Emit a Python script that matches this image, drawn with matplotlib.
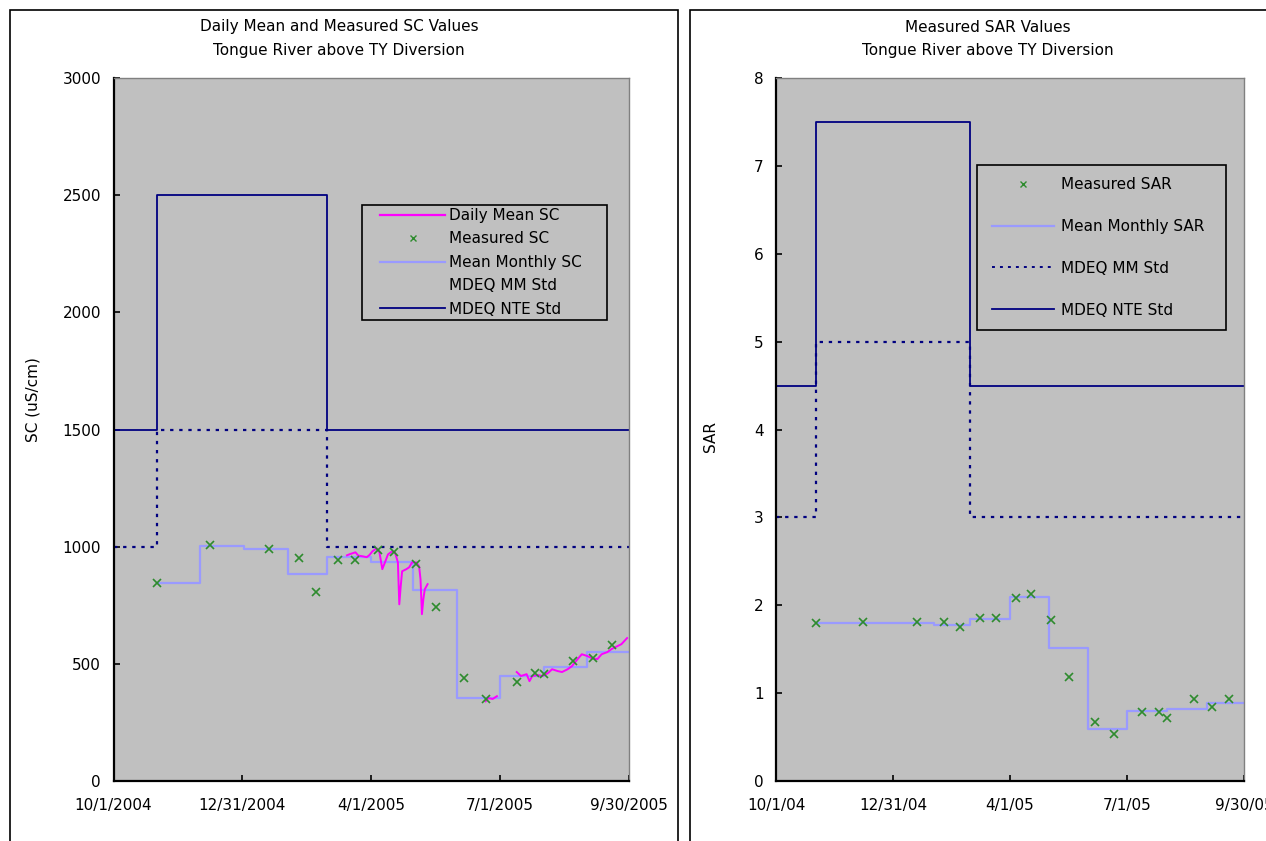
import matplotlib
matplotlib.use("Agg")
import numpy as np
import pandas as pd
import matplotlib.pyplot as plt
from matplotlib.lines import Line2D
from matplotlib.patches import Rectangle
from matplotlib.legend_handler import HandlerLine2D

plt.rcParams["font.family"] = ["DejaVu Sans"]

# sampling dates shared by the SC and SAR grab samples
sample_dates = ["2004-11-01", "2004-12-08", "2005-01-19", "2005-02-09", "2005-02-21",
                "2005-03-09", "2005-03-21", "2005-04-06", "2005-04-17", "2005-05-03",
                "2005-05-17", "2005-06-06", "2005-06-21", "2005-07-13", "2005-07-26",
                "2005-08-01", "2005-08-22", "2005-09-05", "2005-09-18"]
sc_measured = [847, 1005, 990, 950, 805, 942, 942, 985, 977, 927,
               744, 440, 352, 424, 460, 455, 513, 527, 581]
sar_measured = [1.80, 1.81, 1.81, 1.81, 1.75, 1.85, 1.85, 2.08, 2.13, 1.83,
                1.18, 0.67, 0.53, 0.79, 0.79, 0.72, 0.93, 0.84, 0.93]

# monthly means (step starts), last value held to end of water year
month_dates = ["2004-11-01", "2004-12-01", "2005-01-01", "2005-02-01", "2005-03-01",
               "2005-04-01", "2005-05-01", "2005-06-01", "2005-07-01", "2005-08-01",
               "2005-09-01", "2005-09-30"]
sc_monthly = [845, 1002, 988, 882, 958, 935, 815, 354, 449, 487, 550, 550]
sar_monthly = [1.80, 1.80, 1.80, 1.78, 1.84, 2.09, 1.51, 0.59, 0.80, 0.82, 0.89, 0.89]

# MDEQ standards
std_dates = ["2004-10-01", "2004-11-01", "2005-03-01", "2005-09-30"]
sc_mm_std = [1000, 1500, 1000, 1000]
sc_nte_std = [1500, 2500, 1500, 1500]
sar_mm_std = [3.0, 5.0, 3.0, 3.0]
sar_nte_std = [4.5, 7.5, 4.5, 4.5]

# daily mean SC from the continuous recorder (None = no record)
daily_dates = ["2005-03-15", "2005-03-17", "2005-03-19", "2005-03-21", "2005-03-23",
               "2005-03-26", "2005-03-29", "2005-03-31", "2005-04-02", "2005-04-05",
               "2005-04-07", "2005-04-09", "2005-04-11", "2005-04-13", "2005-04-16",
               "2005-04-18", "2005-04-20", "2005-04-21", "2005-04-22", "2005-04-23",
               "2005-04-26", "2005-04-28", "2005-04-30", "2005-05-03", "2005-05-05",
               "2005-05-06", "2005-05-07", "2005-05-08", "2005-05-09", "2005-05-11",
               "2005-05-12",
               "2005-06-21", "2005-06-23", "2005-06-26", "2005-06-29",
               "2005-06-30",
               "2005-07-13", "2005-07-16", "2005-07-20", "2005-07-22", "2005-07-24",
               "2005-07-28", "2005-07-31", "2005-08-04", "2005-08-07", "2005-08-11",
               "2005-08-14", "2005-08-18", "2005-08-21", "2005-08-25", "2005-08-28",
               "2005-09-01", "2005-09-04", "2005-09-08", "2005-09-11", "2005-09-15",
               "2005-09-18", "2005-09-22", "2005-09-25", "2005-09-29"]
daily_sc = [963, 968, 972, 976, 962, 959, 955, 965, 980, 993,
            975, 904, 935, 967, 980, 975, 933, 754, 831, 895,
            904, 912, 933, 933, 916, 861, 712, 776, 818, 840,
            None,
            340, 354, 350, 362,
            None,
            465, 448, 456, 426, 448, 452, 448, 460, 477, 469,
            465, 477, 490, 520, 541, 533, 524, 520, 541, 550,
            563, 575, 584, 610]

sc_ticks = ["10/1/2004", "12/31/2004", "4/1/2005", "7/1/2005", "9/30/2005"]
sar_ticks = ["10/1/04", "12/31/04", "4/1/05", "7/1/05", "9/30/05"]
tick_dates = ["2004-10-01", "2004-12-31", "2005-04-01", "2005-07-01", "2005-09-30"]

C_DAILY = "#ff00ff"
C_MEAS = "#2e8b2e"
C_MONTH = "#9a9aff"
C_STD = "#000080"
BG = "#c0c0c0"
FS = 11
DOTS = (0, (1.5, 2.6))

W, H = 1266, 841
fig = plt.figure(figsize=(W / 100, H / 100), dpi=100)


def px(x0, y0, x1, y1):
    # pixel box -> figure fraction rect
    return [x0 / W, 1 - y1 / H, (x1 - x0) / W, (y1 - y0) / H]


def style_axes(ax, labels):
    ax.set_facecolor(BG)
    for s in ("top", "right"):
        ax.spines[s].set_color("#808080")
        ax.spines[s].set_linewidth(1.0)
    for s in ("left", "bottom"):
        ax.spines[s].set_color("black")
        ax.spines[s].set_linewidth(1.6)
    ax.set_xlim(pd.Timestamp("2004-10-01"), pd.Timestamp("2005-09-30"))
    ax.set_xticks(pd.to_datetime(tick_dates))
    ax.set_xticklabels(labels)
    ax.tick_params(direction="in", length=4, width=1.2, labelsize=FS)
    ax.tick_params(axis="x", pad=12)
    ax.tick_params(axis="y", pad=9)


def panel_frame(x0, y0, x1, y1):
    fig.patches.append(Rectangle((x0 / W, 1 - y1 / H), (x1 - x0) / W, (y1 - y0) / H,
                                 transform=fig.transFigure, fill=False,
                                 edgecolor="black", linewidth=1.2))


def legend_box(ax, handles, labels, box, ax_box, xpad, **kw):
    # box / ax_box are pixel extents (x0, y0, x1, y1) of legend and axes
    ax0, ay0, ax1_, ay1 = ax_box
    aw, ah = ax1_ - ax0, ay1 - ay0
    x0, y0, x1, y1 = box
    anchor = ((x0 - ax0) / aw, (ay1 - y1) / ah, (x1 - x0) / aw, (y1 - y0) / ah)
    leg = ax.legend(handles, labels, loc="upper left", bbox_to_anchor=anchor,
                    mode="expand", fontsize=FS, fancybox=False, framealpha=1,
                    facecolor=BG, edgecolor="black", borderaxespad=0,
                    handler_map={Line2D: HandlerLine2D(xpad=xpad)}, **kw)
    leg.get_frame().set_linewidth(1.2)
    return leg


panel_frame(10, 10, 678, 900)
panel_frame(690, 10, 1400, 900)

sd = pd.to_datetime(sample_dates)
md = pd.to_datetime(month_dates)
stdd = pd.to_datetime(std_dates)
dd = pd.to_datetime(daily_dates)
daily_vals = np.array([np.nan if v is None else v for v in daily_sc], dtype=float)

# ---- SC panel ----
box1 = (113.5, 78, 628.5, 781)
ax1 = fig.add_axes(px(*box1))
style_axes(ax1, sc_ticks)
ax1.step(stdd, sc_mm_std, where="post", color=C_STD, lw=1.6, ls=DOTS)
ax1.step(stdd, sc_nte_std, where="post", color=C_STD, lw=1.3)
ax1.step(md, sc_monthly, where="post", color=C_MONTH, lw=1.6)
ax1.plot(dd, daily_vals, color=C_DAILY, lw=1.4)
ax1.plot(sd, sc_measured, ls="none", marker="x", ms=6, mew=1.2, color=C_MEAS)
ax1.set_ylim(0, 3000)
ax1.set_yticks(range(0, 3001, 500))
ax1.set_ylabel("SC (uS/cm)", fontsize=FS)
ax1.yaxis.set_label_coords(-0.141, 0.542)

h1 = [Line2D([], [], color=C_DAILY, lw=1.6),
      Line2D([], [], ls="none", marker="x", ms=5, mew=1.0, color=C_MEAS),
      Line2D([], [], color=C_MONTH, lw=1.6),
      Line2D([], [], ls="none"),
      Line2D([], [], color=C_STD, lw=1.3)]
legend_box(ax1, h1, ["Daily Mean SC", "Measured SC", "Mean Monthly SC",
                     "MDEQ MM Std", "MDEQ NTE Std"],
           (362, 205, 607, 323), box1, xpad=0.98,
           handlelength=5.24, handletextpad=0.26, labelspacing=0.55, borderpad=0.2)

fig.text(339 / W, 1 - 27 / H, "Daily Mean and Measured SC Values", ha="center", va="center", fontsize=FS)
fig.text(339 / W, 1 - 50 / H, "Tongue River above TY Diversion", ha="center", va="center", fontsize=FS)

# ---- SAR panel ----
box2 = (776, 78, 1244, 781)
ax2 = fig.add_axes(px(*box2))
style_axes(ax2, sar_ticks)
ax2.step(stdd, sar_mm_std, where="post", color=C_STD, lw=1.6, ls=DOTS)
ax2.step(stdd, sar_nte_std, where="post", color=C_STD, lw=1.3)
ax2.step(md, sar_monthly, where="post", color=C_MONTH, lw=1.6)
ax2.plot(sd, sar_measured, ls="none", marker="x", ms=6, mew=1.2, color=C_MEAS)
ax2.set_ylim(0, 8)
ax2.set_yticks(range(0, 9))
ax2.set_ylabel("SAR", fontsize=FS)
ax2.yaxis.set_label_coords(-0.124, 0.49)

h2 = [Line2D([], [], ls="none", marker="x", ms=5, mew=1.0, color=C_MEAS),
      Line2D([], [], color=C_MONTH, lw=1.6),
      Line2D([], [], color=C_STD, lw=1.4, ls=DOTS),
      Line2D([], [], color=C_STD, lw=1.3)]
legend_box(ax2, h2, ["Measured SAR", "Mean Monthly SAR", "MDEQ MM Std", "MDEQ NTE Std"],
           (977, 165, 1226, 336), box2, xpad=0.2,
           handlelength=4.25, handletextpad=0.46, labelspacing=1.76, borderpad=0.79)

fig.text(988 / W, 1 - 27 / H, "Measured SAR Values", ha="center", va="center", fontsize=FS)
fig.text(988 / W, 1 - 50 / H, "Tongue River above TY Diversion", ha="center", va="center", fontsize=FS)

fig.savefig("out.png", dpi=100, facecolor="white")
